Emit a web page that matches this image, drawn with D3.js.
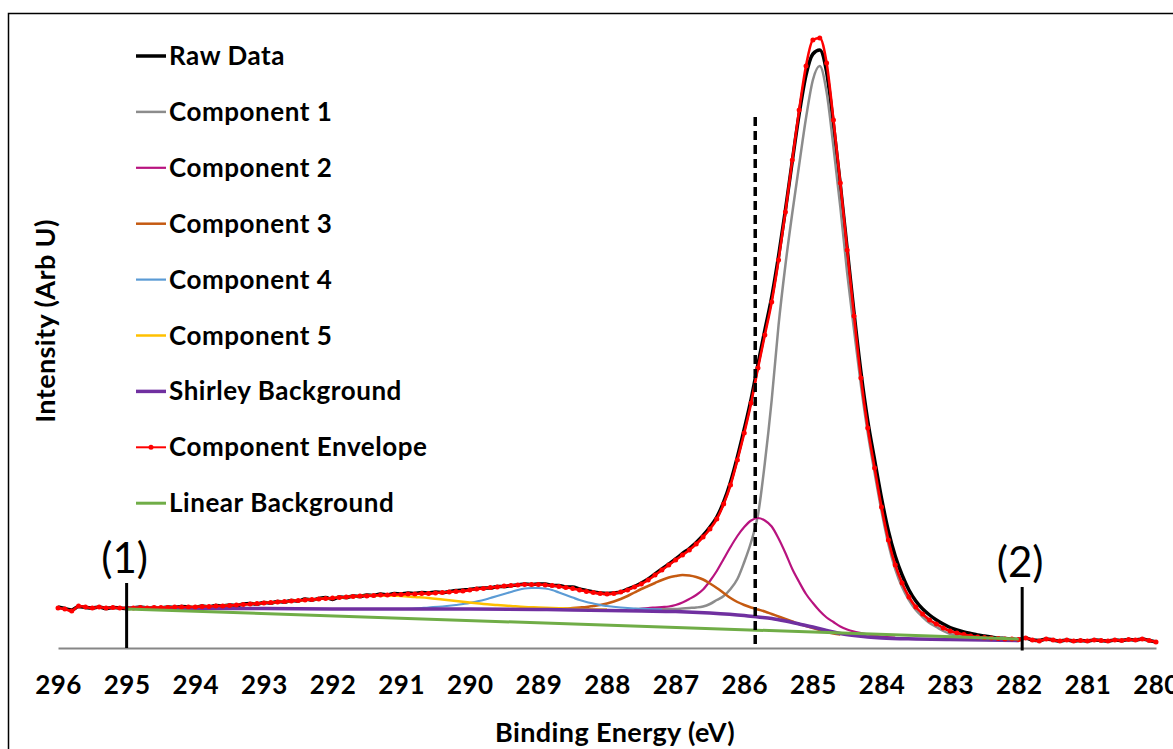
<!DOCTYPE html>
<html>
<head>
<meta charset="utf-8">
<script src="https://cdnjs.cloudflare.com/ajax/libs/d3/7.8.5/d3.min.js"></script>
<style>
  body { margin: 0; background: #fff; }
  svg { display: block; font-family: Lato, "Open Sans", sans-serif; }
</style>
</head>
<body>
<script>
const width = 1173;
const height = 749;

// binding energy grid of the measured spectrum (eV, 0.1 step, high -> low)
const energyGrid = d3.range(0, 161).map((i) => +(296 - i * 0.1).toFixed(1));

// component envelope (sum of fit), same grid
const envelope = [
  400, 390, 370, 420, 410, 400, 410, 400, 405, 400,
  400, 400, 405, 400, 405, 405, 405, 410, 410, 410,
  410, 415, 415, 420, 420, 425, 430, 435, 440, 445,
  450, 455, 460, 465, 470, 475, 480, 485, 490, 495,
  500, 505, 510, 515, 520, 520, 525, 530, 530, 535,
  535, 540, 540, 545, 545, 550, 555, 560, 565, 570,
  580, 590, 595, 605, 610, 620, 625, 630, 635, 635,
  635, 630, 625, 615, 605, 595, 580, 565, 555, 545,
  540, 545, 560, 580, 610, 640, 680, 730, 780, 830,
  880, 930, 980, 1040, 1110, 1190, 1290, 1440, 1630, 1880,
  2150, 2450, 2800, 3130, 3460, 3880, 4360, 4880, 5380, 5820,
  6080, 6100, 5850, 5280, 4650, 3980, 3320, 2700, 2200, 1800,
  1410, 1080, 830, 650, 510, 410, 340, 280, 240, 200,
  170, 150, 135, 120, 110, 105, 100, 95, 90, 90,
  85, 100, 80, 70, 90, 80, 70, 80, 70, 75,
  70, 80, 75, 70, 80, 75, 85, 80, 90, 75,
  60,
];

// raw counts, same grid
const rawData = [
  410, 395, 380, 415, 405, 400, 410, 395, 405, 400,
  395, 400, 410, 400, 405, 400, 410, 405, 415, 410,
  405, 420, 410, 425, 420, 430, 425, 440, 445, 440,
  455, 450, 465, 460, 475, 470, 490, 480, 495, 505,
  485, 510, 505, 520, 515, 530, 525, 540, 530, 545,
  540, 550, 545, 555, 550, 560, 555, 565, 575, 580,
  585, 595, 600, 600, 615, 615, 625, 630, 640, 635,
  640, 640, 625, 625, 610, 610, 590, 575, 560, 550,
  545, 550, 560, 590, 615, 650, 690, 740, 790, 840,
  890, 945, 995, 1055, 1125, 1210, 1310, 1460, 1660, 1910,
  2190, 2490, 2840, 3180, 3510, 3920, 4380, 4870, 5340, 5730,
  5940, 5980, 5760, 5230, 4630, 3990, 3350, 2760, 2270, 1880,
  1500, 1170, 920, 730, 580, 470, 390, 330, 280, 240,
  205, 180, 160, 145, 130, 120, 110, 100, 95, 90,
  85, 100, 80, 75, 90, 80, 70, 80, 70, 75,
  70, 80, 75, 70, 80, 75, 85, 80, 90, 75,
  60,
];

// fitted components as [energy, intensity]
const component1 = [
  [287.6, 390], [287.4, 390], [287.2, 390], [287.0, 390], [286.9, 395],
  [286.8, 400], [286.7, 405], [286.6, 415], [286.5, 440], [286.4, 480],
  [286.3, 520], [286.2, 590], [286.1, 690], [286.0, 860], [285.9, 1060],
  [285.8, 1330], [285.7, 1850], [285.6, 2480], [285.5, 3230], [285.4, 3830],
  [285.3, 4350], [285.2, 4830], [285.1, 5300], [285.0, 5680], [284.9, 5820],
  [284.8, 5560], [284.7, 5010], [284.6, 4410], [284.5, 3750], [284.4, 3180],
  [284.3, 2630], [284.2, 2150], [284.1, 1750], [284.0, 1370], [283.9, 1040],
  [283.8, 790], [283.7, 610], [283.6, 480], [283.5, 380], [283.4, 310],
  [283.3, 250], [283.2, 210], [283.1, 170], [283.0, 140], [282.9, 125],
  [282.8, 110], [282.7, 100], [282.6, 90], [282.5, 85], [282.4, 80],
  [282.3, 80], [282.2, 75], [282.1, 75], [282.0, 70],
];

const component2 = [
  [287.6, 385], [287.4, 400], [287.3, 405], [287.2, 410], [287.1, 415],
  [287.0, 430], [286.9, 455], [286.8, 490], [286.7, 530], [286.6, 585],
  [286.5, 670], [286.4, 770], [286.3, 890], [286.2, 1010], [286.1, 1120],
  [286.0, 1210], [285.9, 1275], [285.8, 1300], [285.7, 1275], [285.6, 1215],
  [285.5, 1095], [285.4, 950], [285.3, 790], [285.2, 660], [285.1, 540],
  [285.0, 450], [284.9, 370], [284.8, 305], [284.7, 260], [284.6, 215],
  [284.5, 185], [284.4, 165], [284.3, 150], [284.2, 135], [284.0, 115],
  [283.8, 105],
];

const component3 = [
  [288.8, 390], [288.6, 395], [288.5, 400], [288.4, 405], [288.3, 410],
  [288.2, 420], [288.1, 430], [288.0, 445], [287.9, 465], [287.8, 490],
  [287.7, 520], [287.6, 555], [287.5, 590], [287.4, 620], [287.3, 650],
  [287.2, 680], [287.1, 705], [287.0, 720], [286.9, 730], [286.8, 725],
  [286.7, 710], [286.6, 685], [286.5, 645], [286.4, 600], [286.3, 550],
  [286.2, 500], [286.1, 460], [286.0, 430], [285.9, 405], [285.8, 385],
  [285.7, 365], [285.6, 340], [285.5, 315], [285.4, 290], [285.3, 265],
  [285.2, 240], [285.1, 220], [285.0, 200], [284.9, 180], [284.8, 160],
  [284.7, 145], [284.6, 135],
];

const component4 = [
  [291.0, 390], [290.8, 395], [290.6, 405], [290.4, 415], [290.2, 430],
  [290.0, 450], [289.9, 465], [289.8, 480], [289.7, 500], [289.6, 520],
  [289.5, 540], [289.4, 560], [289.3, 580], [289.2, 595], [289.1, 600],
  [289.0, 600], [288.9, 595], [288.8, 580], [288.7, 555], [288.6, 530],
  [288.5, 505], [288.4, 480], [288.3, 460], [288.2, 445], [288.1, 430],
  [288.0, 420], [287.8, 405], [287.6, 395], [287.4, 390], [287.2, 385],
];

const component5 = [
  [295.0, 400], [294.5, 405], [294.0, 410], [293.5, 425], [293.0, 450],
  [292.5, 475], [292.0, 500], [291.8, 510], [291.6, 520], [291.4, 525],
  [291.2, 525], [291.0, 520], [290.8, 510], [290.6, 500], [290.4, 485],
  [290.2, 470], [290.0, 455], [289.8, 440], [289.6, 430], [289.4, 420],
  [289.2, 410], [289.0, 405], [288.8, 400], [288.6, 395], [288.4, 390],
  [288.0, 385],
];

const shirleyBackground = [
  [295.0, 400], [294.0, 395], [293.0, 395], [292.0, 390], [291.0, 390],
  [290.0, 390], [289.0, 385], [288.5, 380], [288.0, 375], [287.5, 370],
  [287.0, 365], [286.5, 350], [286.0, 325], [285.8, 310], [285.6, 295],
  [285.4, 270], [285.2, 240], [285.0, 210], [284.8, 175], [284.6, 145],
  [284.4, 125], [284.2, 110], [284.0, 100], [283.5, 90], [283.0, 85],
  [282.5, 80], [282.0, 75],
];

const linearBackground = [[295.0, 390], [282.0, 90]];

// fit window limits and the marked energy
const regionMarks = [
  { label: "(1)", energy: 295.0, top: 650, bottom: 0 },
  { label: "(2)", energy: 281.95, top: 610, bottom: -25 },
];
const dashedEnergy = 285.84;
const dashedTop = 5310;

const xTicks = d3.range(296, 279, -1);

const svg = d3
  .select("body")
  .append("svg")
  .attr("width", width)
  .attr("height", height);

svg
  .append("rect")
  .attr("x", 8.5)
  .attr("y", 13.5)
  .attr("width", 1200)
  .attr("height", 800)
  .attr("fill", "none")
  .attr("stroke", "#000")
  .attr("stroke-width", 1.5);

const xScale = d3.scaleLinear().domain([296, 280]).range([58, 1156]);
const yScale = d3.scaleLinear().domain([0, 6400]).range([648, 8]);

// x axis: grey line, labels only
const xAxis = d3
  .axisBottom(xScale)
  .tickValues(xTicks)
  .tickSize(0)
  .tickSizeOuter(0)
  .tickPadding(28)
  .tickFormat(d3.format("d"));

const axisG = svg
  .append("g")
  .attr("transform", "translate(0," + yScale(0) + ")")
  .call(xAxis);
axisG.select(".domain").attr("stroke", "#868686").attr("stroke-width", 2);
axisG
  .selectAll("text")
  .attr("fill", "#000")
  .style("font-size", "26px")
  .style("font-weight", "bold")
  .style("letter-spacing", "0.5px")
  .style("font-family", "Lato, sans-serif");

svg
  .append("text")
  .attr("x", 615)
  .attr("y", 742)
  .attr("text-anchor", "middle")
  .style("font-size", "27px")
  .style("font-weight", "bold")
  .style("letter-spacing", "0.4px")
  .text("Binding Energy (eV)");

svg
  .append("text")
  .attr("transform", "translate(55,321) rotate(-90)")
  .attr("text-anchor", "middle")
  .style("font-size", "27px")
  .style("font-weight", "bold")
  .style("letter-spacing", "0.4px")
  .text("Intensity (Arb U)");

const gridLine = d3
  .line()
  .x((d, i) => xScale(energyGrid[i]))
  .y((d) => yScale(d))
  .curve(d3.curveMonotoneX);

const pairLine = d3
  .line()
  .x((d) => xScale(d[0]))
  .y((d) => yScale(d[1]))
  .curve(d3.curveMonotoneX);

const series = [
  { name: "Raw Data", color: "#000000", w: 3.5 },
  { name: "Component 1", color: "#8c8c8c", w: 2.5, data: component1 },
  { name: "Component 2", color: "#b8137f", w: 2.2, data: component2 },
  { name: "Component 3", color: "#c55a11", w: 2.5, data: component3 },
  { name: "Component 4", color: "#5b9bd5", w: 2.2, data: component4 },
  { name: "Component 5", color: "#ffc000", w: 2.5, data: component5 },
  { name: "Shirley Background", color: "#7030a0", w: 3.5, data: shirleyBackground },
  { name: "Component Envelope", color: "#ff0000", w: 2.6, marker: true },
  { name: "Linear Background", color: "#70ad47", w: 3, data: linearBackground },
];

const plot = svg.append("g");

series.forEach((s) => {
  if (s.name === "Raw Data") {
    plot
      .append("path")
      .attr("d", gridLine(rawData))
      .attr("fill", "none")
      .attr("stroke", s.color)
      .attr("stroke-width", s.w);
  } else if (s.name === "Component Envelope") {
    plot
      .append("path")
      .attr("d", gridLine(envelope))
      .attr("fill", "none")
      .attr("stroke", s.color)
      .attr("stroke-width", s.w);
    plot
      .append("g")
      .selectAll("circle")
      .data(envelope)
      .enter()
      .append("circle")
      .attr("cx", (d, i) => xScale(energyGrid[i]))
      .attr("cy", (d) => yScale(d))
      .attr("r", 2.5)
      .attr("fill", s.color);
  } else {
    plot
      .append("path")
      .attr("d", pairLine(s.data))
      .attr("fill", "none")
      .attr("stroke", s.color)
      .attr("stroke-width", s.w)
      .attr("stroke-linejoin", "round");
  }
});

// dashed marker through component 2
svg
  .append("line")
  .attr("x1", xScale(dashedEnergy))
  .attr("x2", xScale(dashedEnergy))
  .attr("y1", yScale(dashedTop))
  .attr("y2", yScale(0))
  .attr("stroke", "#000")
  .attr("stroke-width", 3.5)
  .attr("stroke-dasharray", "9,5");

// fit window markers
regionMarks.forEach((m) => {
  svg
    .append("line")
    .attr("x1", xScale(m.energy))
    .attr("x2", xScale(m.energy))
    .attr("y1", yScale(m.top))
    .attr("y2", yScale(m.bottom))
    .attr("stroke", "#000")
    .attr("stroke-width", 3);
  svg
    .append("text")
    .attr("x", xScale(m.energy) - 2)
    .attr("y", yScale(m.top) - 10)
    .attr("text-anchor", "middle")
    .style("font-size", "42px")
    .text(m.label);
});

// legend
const legend = svg.append("g");
series.forEach((s, i) => {
  const y = 56 + i * 55.9;
  legend
    .append("line")
    .attr("x1", 136)
    .attr("x2", 166)
    .attr("y1", y)
    .attr("y2", y)
    .attr("stroke", s.color)
    .attr("stroke-width", s.marker ? 2 : s.w);
  if (s.marker) {
    legend
      .append("circle")
      .attr("cx", 151)
      .attr("cy", y)
      .attr("r", 2.5)
      .attr("fill", s.color);
  }
  legend
    .append("text")
    .attr("x", 169)
    .attr("y", y + 9)
    .style("font-size", "26px")
    .style("font-weight", "bold")
    .style("letter-spacing", "0.55px")
    .text(s.name);
});
</script>
</body>
</html>
